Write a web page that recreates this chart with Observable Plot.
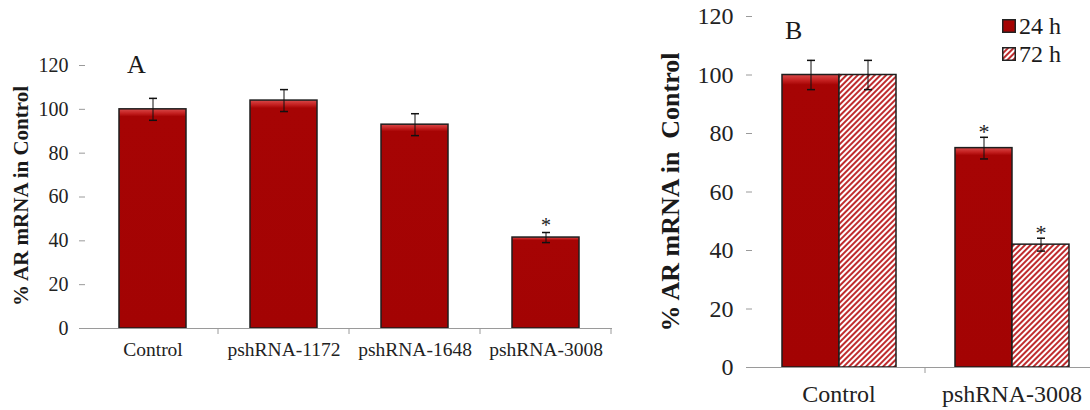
<!DOCTYPE html>
<html>
<head>
<meta charset="utf-8">
<script src="https://cdn.jsdelivr.net/npm/d3@7"></script>
<script src="https://cdn.jsdelivr.net/npm/@observablehq/plot@0.6"></script>
<style>
  html, body { margin: 0; padding: 0; background: #fff; overflow: hidden; }
  #wrap { position: relative; width: 1090px; height: 410px; font-family: "Liberation Serif", "Times New Roman", serif; color: #1a1a1a; }
  #panelA { position: absolute; left: 0; top: 0; width: 640px; }
  #panelB { position: absolute; left: 660px; top: 0; width: 440px; }
  .panel-letter { position: absolute; font-size: 26px; line-height: 1; }
  #legendB { position: absolute; left: 1002px; top: 12px; font-size: 24px; line-height: 28px; }
  #legendB div { display: flex; align-items: center; }
  #legendB svg { margin-right: 3px; }
</style>
</head>
<body>
<svg width="0" height="0" style="position:absolute">
  <defs>
    <linearGradient id="barFill" x1="0" y1="0" x2="0" y2="1">
      <stop offset="0" stop-color="#d84a4a"/>
      <stop offset="0.02" stop-color="#c42020"/>
      <stop offset="0.035" stop-color="#a60404"/>
      <stop offset="1" stop-color="#a30303"/>
    </linearGradient>
    <pattern id="hatch" patternUnits="userSpaceOnUse" width="4" height="4" patternTransform="rotate(45)">
      <rect width="4" height="4" fill="#fff"/>
      <rect width="2" height="4" fill="#bf2c2e"/>
    </pattern>
  </defs>
</svg>

<div id="wrap">
  <div id="panelA"></div>
  <div id="panelB"></div>
  <div class="panel-letter" style="left:785px; top:18px;">B</div>
  <div id="legendB">
    <div><svg width="14" height="14"><rect x="0.75" y="0.75" width="12.5" height="12.5" fill="url(#barFill)" stroke="#222" stroke-width="1.5"/></svg><span>24 h</span></div>
    <div><svg width="14" height="14"><rect x="0.75" y="0.75" width="12.5" height="12.5" fill="url(#hatch)" stroke="#222" stroke-width="1.5"/></svg><span>72 h</span></div>
  </div>
</div>

<script>
// Panel A: AR mRNA after each shRNA construct
const categoriesA = ["Control", "pshRNA-1172", "pshRNA-1648", "pshRNA-3008"];
const valuesA = [100, 104, 93, 41.5];
const errorsA = [5, 5, 5, 2.3];
const significantA = [false, false, false, true];
const ticksA = [0, 20, 40, 60, 80, 100, 120];

// Panel B: pshRNA-3008 at two time points
const categoriesB = ["Control", "pshRNA-3008"];
const timepoints = ["24 h", "72 h"];
const values24h = [100, 75];
const errors24h = [5, 3.7];
const values72h = [100, 42];
const errors72h = [5, 2.2];
const significant24h = [false, true];
const significant72h = [false, true];
const ticksB = [0, 20, 40, 60, 80, 100, 120];

const yLabelA = "% AR mRNA in Control";
const yLabelB = "% AR mRNA in  Control";

const serif = "'Liberation Serif', 'Times New Roman', serif";

// Short horizontal cap for error bars
const cap = { draw(ctx) { ctx.moveTo(-4, 0); ctx.lineTo(4, 0); } };

const dataA = categoriesA.map((c, i) => ({
  category: c, value: valuesA[i], error: errorsA[i], sig: significantA[i]
}));

const dataB = categoriesB.flatMap((c, i) => [
  { category: c, time: timepoints[0], value: values24h[i], error: errors24h[i], sig: significant24h[i] },
  { category: c, time: timepoints[1], value: values72h[i], error: errors72h[i], sig: significant72h[i] }
]);

const fillFor = (t) => t === timepoints[0] ? "url(#barFill)" : "url(#hatch)";

// Tick marks at the category boundaries along the x axis
function boundaryTicks(svg, positions, y0, color) {
  const g = d3.select(svg).append("g").attr("stroke", color);
  for (const x of positions) {
    g.append("line").attr("x1", x).attr("x2", x).attr("y1", y0).attr("y2", y0 + 6);
  }
}

const chartA = Plot.plot({
  width: 640,
  height: 410,
  marginLeft: 85,
  marginRight: 28,
  marginTop: 65,
  marginBottom: 82,
  style: { fontFamily: serif, background: "transparent", overflow: "visible" },
  x: { domain: categoriesA, paddingInner: 0.49, paddingOuter: 0.245, label: null, axis: null },
  y: { domain: [0, 120], label: null, axis: null },
  marks: [
    Plot.barY(dataA, { x: "category", y: "value", fill: "url(#barFill)", stroke: "#1e1e1e", strokeWidth: 1.5 }),
    Plot.ruleY([0], { stroke: "#9a9a9a" }),
    Plot.ruleX(dataA, { x: "category", y1: d => d.value - d.error, y2: d => d.value + d.error, stroke: "#111", strokeWidth: 1 }),
    Plot.dot(dataA, { x: "category", y: d => d.value + d.error, symbol: cap, stroke: "#111", fill: "none", r: 4 }),
    Plot.dot(dataA, { x: "category", y: d => d.value - d.error, symbol: cap, stroke: "#111", fill: "none", r: 4 }),
    Plot.text(dataA.filter(d => d.sig), { x: "category", y: d => d.value + d.error, text: () => "*", dy: -7, fontSize: 20, fill: "#222" }),
    Plot.axisY({ ticks: ticksA, tickSize: 6, tickPadding: 11, stroke: "#9a9a9a", fill: "#222", line: true, fontSize: 20, label: null }),
    Plot.axisX({ tickSize: 0, tickPadding: 14, fontSize: 19.5, fill: "#222", label: null }),
    Plot.text([yLabelA], { text: d => d, frameAnchor: "left", textAnchor: "middle", rotate: -90, dx: -64, dy: -1, fontSize: 21, fontWeight: "bold", fill: "#1a1a1a" }),
    Plot.text(["A"], { text: d => d, frameAnchor: "top-left", textAnchor: "middle", dx: 51, dy: -11, fontSize: 26, fill: "#1a1a1a" })
  ]
});
document.getElementById("panelA").append(chartA);
{
  const x = chartA.scale("x");
  const y = chartA.scale("y");
  const bw = x.bandwidth;
  const step = x.step;
  const pos = categoriesA.map(c => x.apply(c) + bw + (step - bw) / 2);
  boundaryTicks(chartA, pos, y.apply(0), "#9a9a9a");
}

const chartB = Plot.plot({
  width: 440,
  height: 410,
  marginLeft: 92,
  marginRight: 2,
  marginTop: 16,
  marginBottom: 43,
  style: { fontFamily: serif, background: "transparent", overflow: "visible" },
  fx: { domain: categoriesB, padding: 0, label: null, axis: null },
  x: { domain: timepoints, paddingInner: 0, paddingOuter: 0.5, axis: null, label: null },
  y: { domain: [0, 120], label: null, axis: null },
  marks: [
    Plot.barY(dataB, { fx: "category", x: "time", y: "value", fill: d => fillFor(d.time), stroke: "#1e1e1e", strokeWidth: 1.5 }),
    Plot.ruleY([0], { stroke: "#9a9a9a" }),
    Plot.ruleX(dataB, { fx: "category", x: "time", y1: d => d.value - d.error, y2: d => d.value + d.error, stroke: "#111", strokeWidth: 1 }),
    Plot.dot(dataB, { fx: "category", x: "time", y: d => d.value + d.error, symbol: cap, stroke: "#111", fill: "none", r: 4 }),
    Plot.dot(dataB, { fx: "category", x: "time", y: d => d.value - d.error, symbol: cap, stroke: "#111", fill: "none", r: 4 }),
    Plot.text(dataB.filter(d => d.sig), { fx: "category", x: "time", y: d => d.value + d.error, text: () => "*", dy: -5, fontSize: 22, fill: "#222" }),
    Plot.axisY({ ticks: ticksB, tickSize: 6, tickPadding: 13, stroke: "#9a9a9a", fill: "#222", line: true, fontSize: 24, label: null }),
    Plot.axisFx({ anchor: "bottom", tickSize: 0, tickPadding: 17, fontSize: 24, fill: "#222", label: null }),
    Plot.axisY({ ticks: [], tickSize: 0, label: yLabelB, labelAnchor: "center", labelArrow: "none", labelOffset: 92, dy: 7, fontSize: 26, fontWeight: "bold", fill: "#1a1a1a" })
  ]
});
document.getElementById("panelB").append(chartB);
{
  const fx = chartB.scale("fx");
  const y = chartB.scale("y");
  const pos = categoriesB.slice(1).map(c => fx.apply(c));
  boundaryTicks(chartB, pos, y.apply(0), "#9a9a9a");
}
</script>
</body>
</html>
